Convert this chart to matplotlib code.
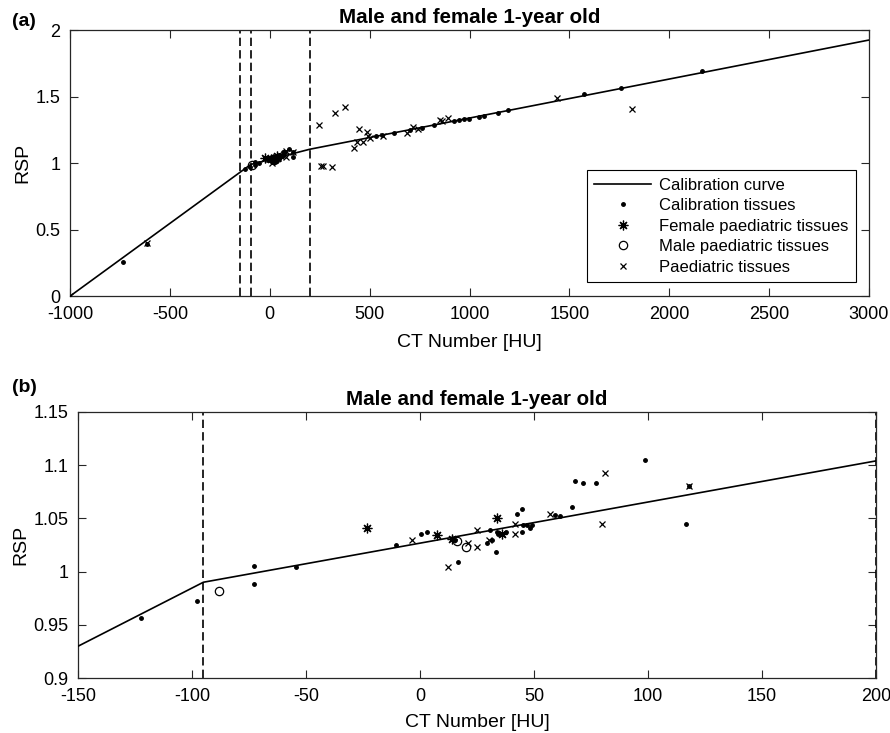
import matplotlib
matplotlib.use("Agg")
import matplotlib.pyplot as plt
from matplotlib.ticker import FuncFormatter, MultipleLocator

plt.rcParams['font.family'] = ['Liberation Sans', 'DejaVu Sans']

# calibration curve (piecewise linear)
curve_ct = [-1000, -95, 200, 3000]
curve_rsp = [0.0, 0.99, 1.104, 1.925]

# boundaries of the fit segments
bounds = [-1000, -150, -95, 200]

# calibration tissues
calib_ct = [-736, -616, -122.5, -97.8, -73, -73, -54.4, -10.4, 0.3, 2.9, 15.4, 16.8,
            29.2, 30.7, 31.4, 33.2, 33.6, 34.3, 37.6, 42.4, 44.6, 44.9, 45.3, 46.8,
            48.2, 49.0, 59.2, 61.4, 66.9, 68.0, 71.3, 77.0, 98.5, 116.7, 118.1,
            530, 560, 620, 700, 760, 820, 920, 945, 970, 995, 1045, 1070, 1145,
            1195, 1575, 1760, 2165]
calib_rsp = [0.258, 0.39, 0.956, 0.972, 1.005, 0.988, 1.004, 1.025, 1.035, 1.037, 1.030, 1.009,
             1.027, 1.039, 1.030, 1.018, 1.037, 1.035, 1.037, 1.054, 1.037, 1.059, 1.044, 1.044,
             1.041, 1.044, 1.053, 1.052, 1.061, 1.085, 1.083, 1.083, 1.105, 1.045, 1.080,
             1.201, 1.21, 1.226, 1.25, 1.267, 1.285, 1.318, 1.323, 1.328, 1.333, 1.350, 1.356, 1.378,
             1.398, 1.517, 1.566, 1.692]

# female paediatric tissues
female_ct = [-23.4, 7.6, 14.0, 33.9, 35.8]
female_rsp = [1.041, 1.034, 1.031, 1.050, 1.035]

# male paediatric tissues
male_ct = [-88, 16.1, 20.0]
male_rsp = [0.982, 1.029, 1.023]

# paediatric tissues
paed_ct = [-1000, -616, -3.4, 12.4, 20.9, 24.9, 25.1, 30.3, 35.8, 41.7, 41.7, 57.0, 80.0,
           81.1, 118.1, 248, 257, 265, 313, 327, 377, 423, 435, 448, 468, 485, 490, 500,
           569, 686, 719, 744, 852, 861, 894, 1440, 1815]
paed_rsp = [0.0, 0.396, 1.030, 1.004, 1.027, 1.039, 1.023, 1.030, 1.035, 1.045, 1.035, 1.054, 1.045,
            1.093, 1.080, 1.286, 0.977, 0.98, 0.967, 1.373, 1.419, 1.115, 1.16, 1.26, 1.16, 1.235, 1.205, 1.19,
            1.203, 1.223, 1.268, 1.26, 1.323, 1.32, 1.336, 1.491, 1.406]

title = "Male and female 1-year old"
ink = '#262626'

fig = plt.figure(figsize=(8.9, 7.33), dpi=100)
ax1 = fig.add_axes([0.0787, 0.596, 0.8977, 0.363])
ax2 = fig.add_axes([0.0876, 0.075, 0.8966, 0.363])

fmt = FuncFormatter(lambda v, p: '%g' % round(v, 4))

for ax in [ax1, ax2]:
    ax.plot(curve_ct, curve_rsp, color='black', lw=1.2, label='Calibration curve', zorder=3)
    for b in bounds:
        ax.axvline(b, color='black', lw=1.2, linestyle=(0, (5, 2.5)), zorder=2)
    ax.plot(calib_ct, calib_rsp, linestyle='none', marker='o', ms=2.5, color='black',
            label='Calibration tissues', zorder=4)
    ax.plot(female_ct, female_rsp, linestyle='none', marker=(8, 2, 0), ms=7, mew=0.9,
            color='black', label='Female paediatric tissues', zorder=4)
    ax.plot(male_ct, male_rsp, linestyle='none', marker='o', ms=6, mfc='none', mew=0.9,
            color='black', label='Male paediatric tissues', zorder=4)
    ax.plot(paed_ct, paed_rsp, linestyle='none', marker='x', ms=5, mew=0.9, color='black',
            label='Paediatric tissues', zorder=4)
    ax.set_xlabel('CT Number [HU]', fontsize=14, color='black', labelpad=8)
    ax.set_ylabel('RSP', fontsize=14, color='black', labelpad=3)
    ax.set_title(title, fontsize=14.8, fontweight='bold', pad=5)
    ax.tick_params(direction='in', top=True, right=True, length=5.5, width=0.8,
                   labelsize=13, colors=ink, labelcolor='black', pad=7)
    for s in ax.spines.values():
        s.set_color(ink)
        s.set_linewidth(0.9)
    ax.xaxis.set_major_formatter(fmt)
    ax.yaxis.set_major_formatter(fmt)

ax1.set_xlim(-1000, 3000)
ax1.set_ylim(0, 2)
ax1.xaxis.set_major_locator(MultipleLocator(500))
ax1.yaxis.set_major_locator(MultipleLocator(0.5))

ax2.set_xlim(-150, 200)
ax2.set_ylim(0.9, 1.15)
ax2.xaxis.set_major_locator(MultipleLocator(50))
ax2.yaxis.set_major_locator(MultipleLocator(0.05))
ax2.xaxis.labelpad = 7

leg = ax1.legend(loc='lower right', bbox_to_anchor=(0.984, 0.053), fontsize=12,
                 frameon=True, fancybox=False, edgecolor='black', framealpha=1,
                 handlelength=3.4, labelspacing=0.33, borderpad=0.45, handletextpad=0.5,
                 borderaxespad=0)
leg.get_frame().set_linewidth(0.8)

fig.text(12 / 890, 1 - 21 / 733, '(a)', fontsize=14, fontweight='bold', va='center', ha='left')
fig.text(12 / 890, 1 - 387 / 733, '(b)', fontsize=14, fontweight='bold', va='center', ha='left')

plt.savefig('out.png', dpi=100)
